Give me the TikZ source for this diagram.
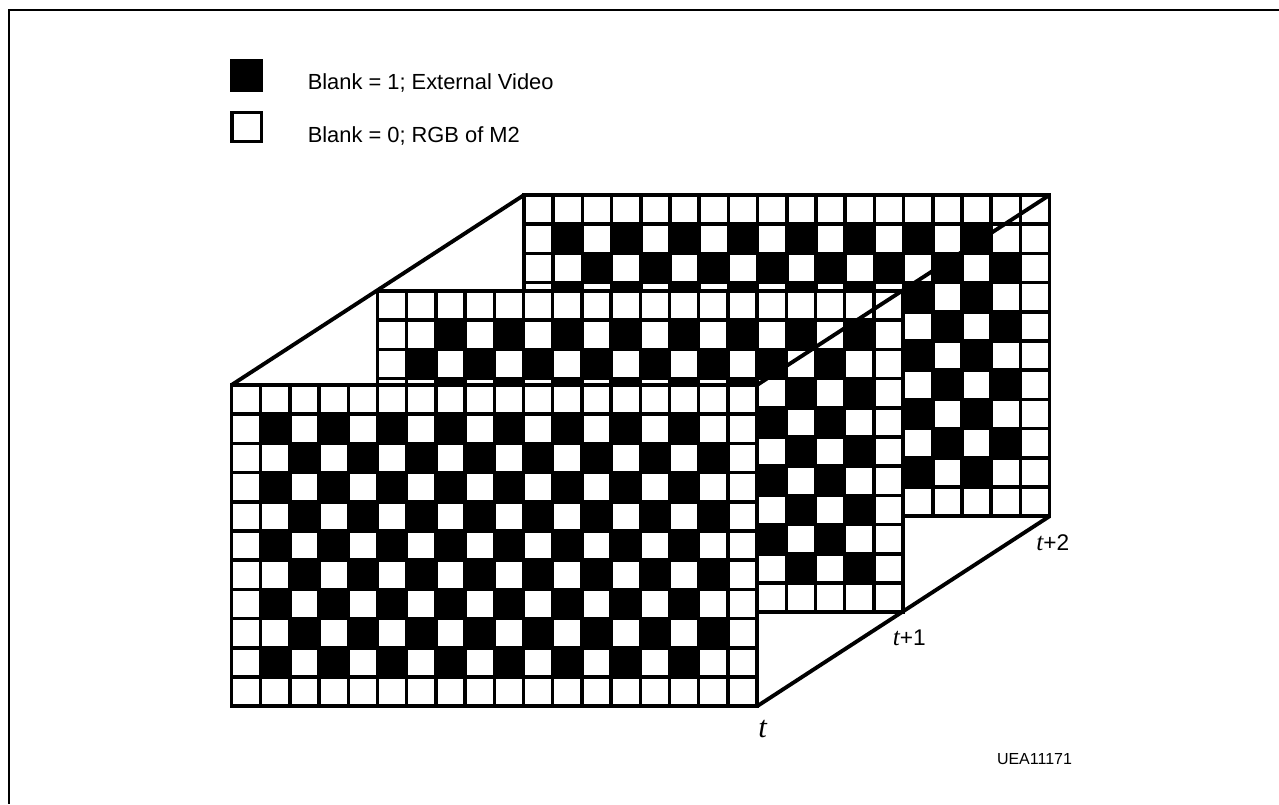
\documentclass[tikz,border=0pt]{standalone}
\usepackage{fontspec}
\setmainfont{Liberation Sans}
\newfontfamily\timefont{Liberation Serif}
\usetikzlibrary{calc,positioning}
\newcommand{\cellsize}{29.2}
\newcommand{\timevar}{{\timefont\itshape\fontsize{19}{20}\selectfont t}}
\tikzset{
  frameline/.style={line width=2.9pt},
  gridline/.style={line width=2.6pt,line cap=rect},
  legendtext/.style={anchor=base west,inner sep=0pt,font=\fontsize{16.4}{18}\selectfont},
  timetext/.style={anchor=base west,inner sep=0pt,font=\fontsize{17}{19}\selectfont}
}
% one video frame: name, left, top, parity of the black cells
\newcommand{\videoframe}[4]{
  \coordinate (#1tl) at (#2,#3);
  \coordinate (#1tr) at ($(#1tl)+(18*\cellsize,0)$);
  \coordinate (#1bl) at ($(#1tl)+(0,11*\cellsize)$);
  \coordinate (#1br) at ($(#1tl)+(18*\cellsize,11*\cellsize)$);
  \fill[white] (#1tl) rectangle (#1br);
  \foreach \r in {1,...,9}{
    \foreach \c in {1,...,16}{
      \pgfmathtruncatemacro{\cellodd}{mod(\r+\c+#4,2)}
      \ifnum\cellodd=0
        \fill ($(#1tl)+(\c*\cellsize,\r*\cellsize)$) rectangle +(\cellsize,\cellsize);
      \fi
    }
  }
  \foreach \c in {0,...,18}
    \draw[gridline] ($(#1tl)+(\c*\cellsize,0)$) -- ($(#1bl)+(\c*\cellsize,0)$);
  \foreach \r in {0,...,11}
    \draw[gridline] ($(#1tl)+(0,\r*\cellsize)$) -- ($(#1tr)+(0,\r*\cellsize)$);
}
\begin{document}
\begin{tikzpicture}[x=0.75pt,y=-0.75pt,line join=miter]
\useasboundingbox (0,0) rectangle (1279,804);
\fill[white] (0,0) rectangle (1279,804);
\draw[line width=1.5pt] (1279,10) -- (9,10) -- (9,804);

\node[draw,fill=black,minimum size=24.5pt,inner sep=0pt,line width=0pt] (blankone) at (246.5,75.5) {};
\node[draw,line width=2.5pt,minimum size=22pt,inner sep=0pt] (blankzero) at (246.5,127) {};
\node[legendtext] (blankonetext) at (307.5,89) {Blank = 1; External Video};
\node[legendtext] (blankzerotext) at (307.5,142) {Blank = 0; RGB of M2};

\videoframe{third}{524}{195}{0}
\videoframe{second}{377.5}{291}{1}
\videoframe{first}{231.5}{385}{0}

\draw[frameline] (firsttl) -- (thirdtl);
\draw[frameline] (firsttr) -- (thirdtr);
\draw[frameline] (firstbr) -- (thirdbr);

\node[anchor=base west,inner sep=0pt,font=\timefont\itshape\fontsize{23}{24}\selectfont] (tzero) at (758,737) {t};
\node[timetext] (tone) at (892.5,645) {\timevar+1};
\node[timetext] (ttwo) at (1036,550) {\timevar+2};
\node[inner sep=0pt,font=\fontsize{12}{14}\selectfont] (code) at (1034.5,759) {UEA11171};
\end{tikzpicture}
\end{document}
